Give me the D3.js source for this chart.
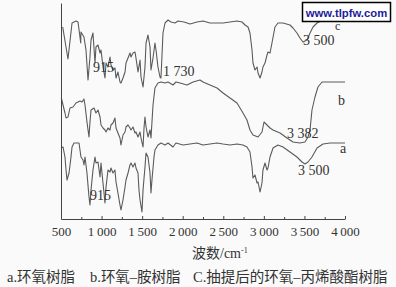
<!DOCTYPE html>
<html><head><meta charset="utf-8">
<script src="https://cdn.jsdelivr.net/npm/d3@7"></script>
<style>
html,body{margin:0;padding:0;background:#fafafa;}
svg{display:block;}
text{font-family:"Liberation Serif","Noto Sans CJK SC",serif;fill:#333;}
</style></head><body>
<script>
// wavenumber (cm^-1), relative transmittance (arbitrary units)
const curveA = [[500,71],[525,72],[549,62],[562,49],[574,39],[599,46],[623,62],[636,72],[660,76],[685,76],[722,76],[734,69],[746,62],[771,59],[783,54],[796,62],[820,46],[845,22],[857,14],[870,29],[894,49],[919,62],[931,56],[956,57],[981,42],[993,56],[1005,46],[1030,26],[1042,16],[1055,32],[1079,49],[1104,47],[1116,51],[1141,46],[1165,49],[1178,37],[1202,26],[1227,14],[1239,9],[1264,19],[1289,32],[1301,39],[1326,46],[1350,54],[1363,56],[1387,52],[1412,56],[1424,51],[1449,46],[1461,29],[1474,19],[1498,7],[1511,29],[1535,52],[1548,66],[1572,62],[1597,46],[1609,26],[1621,39],[1646,62],[1658,69],[1695,74],[1732,76],[1782,74],[1819,76],[1880,72],[1917,76],[2004,74],[2090,75],[2176,76],[2250,74],[2336,75],[2423,76],[2497,75],[2583,74],[2669,75],[2743,74],[2792,72],[2829,67],[2854,52],[2866,41],[2891,44],[2916,36],[2928,37],[2953,27],[2977,36],[2989,49],[3014,56],[3039,49],[3051,51],[3076,62],[3113,71],[3174,74],[3236,72],[3322,67],[3408,62],[3470,57],[3507,55],[3544,57],[3593,62],[3655,71],[3729,75],[3815,76],[4000,76]];
const curveB = [[504,121],[525,114],[549,106],[562,101],[586,102],[611,111],[648,112],[685,116],[734,118],[759,117],[783,120],[796,114],[820,97],[845,82],[857,97],[870,109],[907,111],[931,106],[956,109],[981,102],[993,94],[1018,91],[1042,89],[1055,87],[1079,91],[1104,89],[1116,94],[1141,96],[1165,101],[1178,91],[1202,86],[1227,81],[1239,74],[1264,84],[1289,87],[1301,92],[1326,94],[1350,91],[1363,89],[1387,92],[1412,86],[1424,87],[1449,82],[1474,87],[1486,81],[1511,72],[1523,91],[1535,102],[1548,92],[1572,82],[1597,89],[1609,81],[1634,114],[1658,131],[1695,136],[1732,137],[1782,136],[1819,137],[1880,134],[1917,137],[1967,136],[2053,134],[2127,137],[2213,139],[2250,137],[2336,134],[2423,131],[2497,126],[2583,121],[2669,116],[2743,106],[2792,99],[2829,89],[2866,84],[2928,82],[2977,87],[3002,97],[3039,94],[3076,91],[3113,89],[3199,86],[3285,81],[3359,77],[3445,76],[3507,77],[3544,82],[3569,89],[3593,109],[3630,122],[3667,132],[3717,137],[3815,137],[4000,137]];
const curveC = [[521,192],[586,160],[636,196],[685,198],[710,197],[743,176],[746,187],[783,182],[808,169],[833,139],[857,162],[870,179],[894,186],[919,156],[931,172],[956,174],[981,166],[993,169],[1018,152],[1042,141],[1055,156],[1079,152],[1104,162],[1116,154],[1141,149],[1165,151],[1178,141],[1202,147],[1227,137],[1239,136],[1264,141],[1289,147],[1301,156],[1326,161],[1350,166],[1363,162],[1387,166],[1412,167],[1424,161],[1449,147],[1474,159],[1486,142],[1511,132],[1535,152],[1548,176],[1572,184],[1597,172],[1609,149],[1634,161],[1658,176],[1671,169],[1695,152],[1720,142],[1732,141],[1757,186],[1782,196],[1819,199],[1856,197],[1905,196],[1942,198],[2016,197],[2090,195],[2176,197],[2250,198],[2336,196],[2423,196],[2497,196],[2583,197],[2669,198],[2731,197],[2768,194],[2805,192],[2829,186],[2854,169],[2866,156],[2891,149],[2916,152],[2928,146],[2953,141],[2977,147],[2989,152],[3014,156],[3039,164],[3051,167],[3076,166],[3100,176],[3137,192],[3174,196],[3236,196],[3322,194],[3359,191],[3408,186],[3445,181],[3482,177],[3532,179],[3569,186],[3606,192],[3655,196],[3729,199],[3877,199],[4000,200]];
const majorTicks = [500,1000,1500,2000,2500,3000,3500,4000];
const minorTicks = [750,1250,1750,2250,2750,3250,3750];
// annotations: text, wavenumber, value (anchor at text start / baseline)
const annText = ["915","1 730","3 500","3 382","3 500","915"];
const annWn   = [894,1757,3482,3285,3421,857];
const annVal  = [147,143,174,81,44,19];
const curveLabels = ["c","b","a"];
const curveLabelWn = [3877,3914,3938];
const curveLabelVal = [189,114,66];
const xTitle = "波数/cm";
const captions = ["a.环氧树脂","b.环氧–胺树脂","C.抽提后的环氧–丙烯酸酯树脂"];
const watermark = "www.tlpfw.com";

const W=396,H=287;
const svg=d3.select("body").append("svg").attr("width",W).attr("height",H);
svg.append("rect").attr("width",W).attr("height",H).attr("fill","#fafafa");
const x=d3.scaleLinear().domain([500,4000]).range([61,345]);
const y=d3.scaleLinear().domain([0,216]).range([219,3]);
const fmt=d=>{const s=String(d);return s.length>3?s.slice(0,s.length-3)+"\u2009"+s.slice(-3):s;};

const line=d3.line().x(d=>x(d[0])).y(d=>y(d[1]));
[curveA,curveB,curveC].forEach(c=>{
  svg.append("path").datum(c).attr("d",line).attr("fill","none")
    .attr("stroke","#5a5a5a").attr("stroke-width",1.1).attr("stroke-linejoin","round");
});

// axes
const gx=svg.append("g").attr("transform","translate(0,219)");
gx.call(d3.axisBottom(x).tickValues(majorTicks).tickSizeInner(-3).tickSizeOuter(0).tickPadding(8).tickFormat(fmt));
gx.append("g").call(d3.axisBottom(x).tickValues(minorTicks).tickSizeInner(-2).tickSizeOuter(0).tickFormat(""))
  .select(".domain").remove();
gx.selectAll("path,line").attr("stroke","#444").attr("stroke-width",1);
gx.selectAll("text").attr("font-size",13).attr("fill","#333").style("font-family","Liberation Serif");
const gy=svg.append("g").attr("transform","translate(61,0)");
gy.call(d3.axisLeft(y).tickValues([]).tickSizeOuter(0));
gy.selectAll("path").attr("stroke","#444");

// annotations
svg.selectAll("text.ann").data(annText).enter().append("text").attr("class","ann")
  .attr("x",(d,i)=>x(annWn[i])).attr("y",(d,i)=>y(annVal[i])).attr("font-size",14).text(d=>d);
svg.selectAll("text.cl").data(curveLabels).enter().append("text").attr("class","cl")
  .attr("x",(d,i)=>x(curveLabelWn[i])).attr("y",(d,i)=>y(curveLabelVal[i]))
  .attr("font-size",(d,i)=>i===0?12:14).text(d=>d);

// axis title
const t=svg.append("text").attr("x",192).attr("y",258).attr("font-size",14);
t.append("tspan").text(xTitle);
t.append("tspan").attr("font-size",8).attr("dy",-5).text("-1");

// captions
const capX=[7,90,193];
captions.forEach((c,i)=>svg.append("text").attr("x",capX[i]).attr("y",282).attr("font-size",14.5).text(c));

// watermark
svg.append("rect").attr("x",302.5).attr("y",2.5).attr("width",88).attr("height",19)
  .attr("fill","#fff").attr("stroke","#000").attr("stroke-width",1.5);
svg.append("text").attr("x",346.5).attr("y",16.5).attr("text-anchor","middle").attr("font-size",11.3).attr("font-weight","bold")
  .style("font-family","Liberation Sans").style("fill","#1c1c9c").text(watermark);
</script>
</body></html>
